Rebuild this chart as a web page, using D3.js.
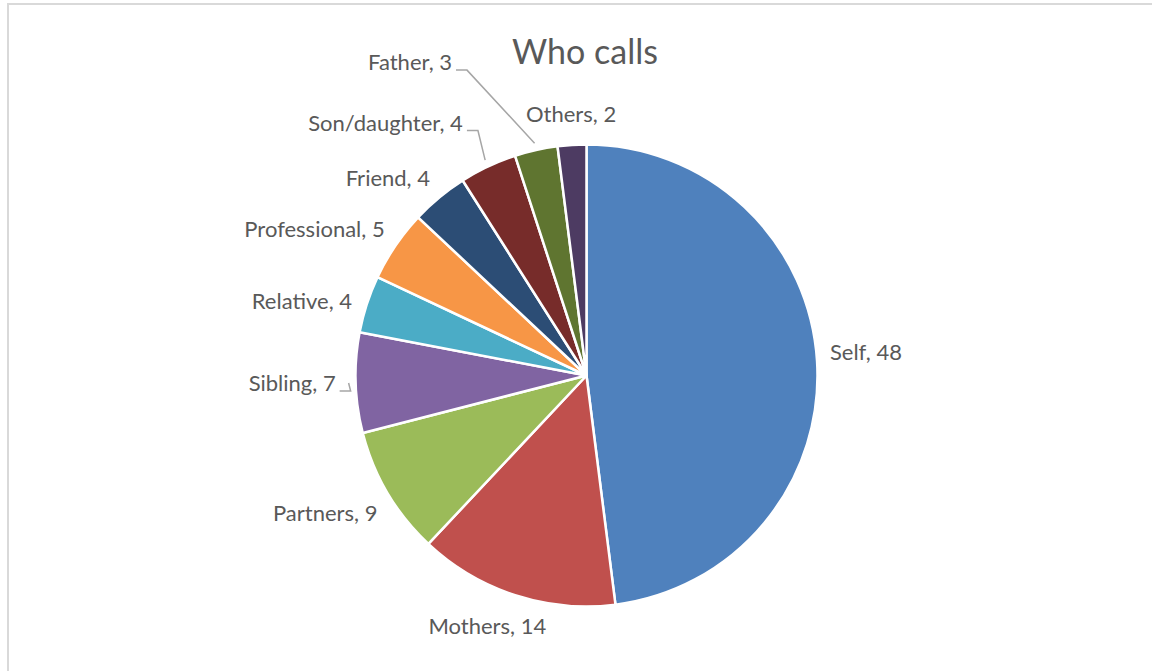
<!DOCTYPE html>
<html>
<head>
<meta charset="utf-8">
<script src="https://cdn.jsdelivr.net/npm/d3@7"></script>
<style>
  html, body { margin: 0; padding: 0; background: #ffffff; }
  svg { display: block; }
  text { font-family: Lato, "Liberation Sans", sans-serif; fill: #595959; }
</style>
</head>
<body>
<svg id="chart" width="1152" height="671"></svg>
<script>
// Who calls — share of callers by relationship
const categories = ["Self", "Mothers", "Partners", "Sibling", "Relative",
                    "Professional", "Friend", "Son/daughter", "Father", "Others"];
const values = [48, 14, 9, 7, 4, 5, 4, 4, 3, 2];
const colors = ["#4f81bd", "#c0504d", "#9bbb59", "#8064a2", "#4bacc6",
                "#f79646", "#2c4d75", "#772c2a", "#5f7530", "#4d3b62"];
const title = "Who calls";

// label offsets for the crowded upper-left slices
const labelNudge = {
  "Friend": [-13, 2],
  "Son/daughter": [-62, -18],
  "Father": [-113, -60],
  "Others": [3, -3],
  "Self": [-5, -8],
  "Relative": [0, 5],
  "Professional": [-8, -1],
  "Mothers": [-4, 3],
  "Partners": [-2, 5],
  "Sibling": [-2, -1]
};
const withLeader = new Set(["Sibling", "Son/daughter", "Father"]);

const W = 1152, H = 671;
const cx = 586.5, cy = 375.5, r = 231;

const svg = d3.select("#chart");

// chart area frame
svg.append("rect")
  .attr("x", 8).attr("y", 4)
  .attr("width", W).attr("height", H)
  .attr("fill", "none")
  .attr("stroke", "#d9d9d9")
  .attr("stroke-width", 2);

svg.append("text")
  .attr("x", 585).attr("y", 50)
  .attr("text-anchor", "middle")
  .attr("dominant-baseline", "central")
  .style("font-size", "34px")
  .text(title);

const data = categories.map((c, i) => ({ name: c, value: values[i], color: colors[i] }));

const pie = d3.pie().sort(null).value(d => d.value);
const arcs = pie(data);
const arc = d3.arc().innerRadius(0).outerRadius(r);

const g = svg.append("g").attr("transform", `translate(${cx},${cy})`);

g.selectAll("path.slice")
  .data(arcs)
  .join("path")
  .attr("class", "slice")
  .attr("d", arc)
  .attr("fill", d => d.data.color)
  .attr("stroke", "#ffffff")
  .attr("stroke-width", 2.5)
  .attr("stroke-linejoin", "round");

const polar = (a, R) => [R * Math.sin(a), -R * Math.cos(a)];

const labels = g.append("g");
arcs.forEach(d => {
  const mid = (d.startAngle + d.endAngle) / 2;
  const [px, py] = polar(mid, r + 18);
  const t = labels.append("text")
    .style("font-size", "22px")
    .attr("text-anchor", "middle")
    .attr("dominant-baseline", "central")
    .text(`${d.data.name}, ${d.data.value}`);
  const bb = t.node().getBBox();
  const w = bb.width, h = 22;
  const nudge = labelNudge[d.data.name] || [0, 0];
  const lx = px + Math.sin(mid) * w / 2 + nudge[0];
  const ly = py - Math.cos(mid) * h / 2 + nudge[1];
  t.attr("x", lx).attr("y", ly);

  if (withLeader.has(d.data.name)) {
    const sx = lx + w / 2 + 4, sy = ly + h * 0.38;
    const [ex, ey] = polar(mid, r + 7);
    labels.append("path")
      .attr("d", d3.line()([[sx, sy], [sx + 11, sy], [ex, ey]]))
      .attr("fill", "none")
      .attr("stroke", "#a6a6a6")
      .attr("stroke-width", 1.5);
  }
});
</script>
</body>
</html>
